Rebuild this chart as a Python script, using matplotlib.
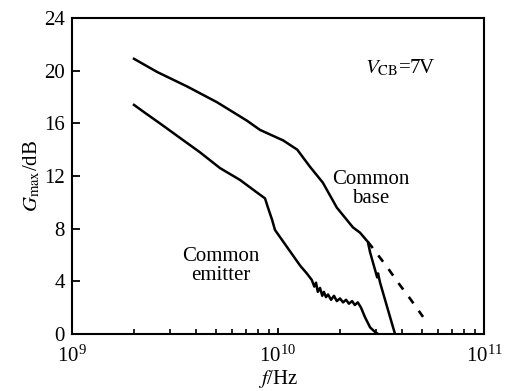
import matplotlib
matplotlib.use("Agg")
import matplotlib.pyplot as plt
from matplotlib.ticker import LogLocator, NullFormatter, MultipleLocator

plt.rcParams['font.family'] = ['Liberation Serif', 'DejaVu Serif']
plt.rcParams['mathtext.fontset'] = 'stix'

# Common base curve (frequency in GHz, Gmax in dB)
base_f = [2.0, 2.59, 3.62, 5.06, 7.07, 8.18, 10.6, 12.4, 14.3, 16.5, 19.3, 23.1,
          25.0, 27.3, 28.0, 30.3, 30.6, 31.3, 33.8, 36.2, 37.0]
base_g = [20.9, 19.9, 18.8, 17.6, 16.2, 15.5, 14.7, 14.0, 12.7, 11.5, 9.6, 8.1,
          7.7, 7.0, 6.2, 4.3, 4.6, 3.9, 2.1, 0.5, 0.0]

# Extrapolated (dashed) common base
dash_f = [27.3, 28.6, 33.8, 38.3, 43.7, 50.6]
dash_g = [7.0, 6.6, 5.1, 3.9, 2.7, 1.3]

# Common emitter curve
emit_f = [2.0, 2.26, 2.67, 3.34, 4.18, 5.23, 6.54, 7.82, 8.65, 8.94, 9.35, 9.67,
          11.3, 12.8, 13.8, 14.6, 15.0, 15.3, 15.6, 16.0, 16.4, 16.7, 17.1, 17.5,
          18.1, 18.7, 19.3, 20.0, 20.7, 21.4, 22.1, 22.9, 23.6, 24.4, 25.3, 26.4,
          28.0, 29.6, 30.6]
emit_g = [17.4, 16.8, 16.0, 14.9, 13.8, 12.6, 11.7, 10.8, 10.3, 9.6, 8.7, 7.9,
          6.4, 5.2, 4.6, 4.1, 3.6, 3.9, 3.2, 3.5, 2.9, 3.2, 2.8, 3.0,
          2.6, 2.9, 2.5, 2.7, 2.4, 2.6, 2.3, 2.5, 2.2, 2.4, 2.0, 1.3,
          0.5, 0.15, 0.0]

fig = plt.figure(figsize=(5.12, 3.91), dpi=100)
ax = fig.add_axes([0.1406, 0.1458, 0.8047, 0.8082])

ax.plot([f * 1e9 for f in base_f], base_g, color='black', lw=1.8)
ax.plot([f * 1e9 for f in dash_f], dash_g, color='black', lw=1.9, ls=(0, (3, 3.5)))
ax.plot([f * 1e9 for f in emit_f], emit_g, color='black', lw=1.8)

ax.set_xscale('log')
ax.set_xlim(1e9, 1e11)
ax.set_ylim(0, 24)
ax.yaxis.set_major_locator(MultipleLocator(4))
ax.xaxis.set_minor_locator(LogLocator(base=10, subs=range(2, 10), numticks=20))
ax.xaxis.set_minor_formatter(NullFormatter())

for s in ax.spines.values():
    s.set_linewidth(1.5)

ax.tick_params(axis='both', which='major', direction='in', labelsize=15,
               top=False, right=False, width=1.3)
ax.tick_params(axis='y', which='major', length=6, pad=5)
ax.tick_params(axis='x', which='major', length=4, pad=8)
ax.tick_params(axis='x', which='minor', direction='in', length=3.5, width=1.2, top=False)

ax.set_xlabel(r'$f$/Hz', fontsize=15, labelpad=1)
ax.set_ylabel(r'$G_{\mathrm{max}}$/dB', fontsize=15, labelpad=1)

ax.text(0.796, 0.842, r'$V_{\mathrm{CB}}$=7V', transform=ax.transAxes,
        ha='center', va='center', fontsize=15)
ax.text(0.726, 0.459, 'Common\nbase', transform=ax.transAxes,
        ha='center', va='center', fontsize=15, linespacing=1.05)
ax.text(0.362, 0.215, 'Common\nemitter', transform=ax.transAxes,
        ha='center', va='center', fontsize=15, linespacing=1.05)

fig.savefig('out.png', dpi=100)
